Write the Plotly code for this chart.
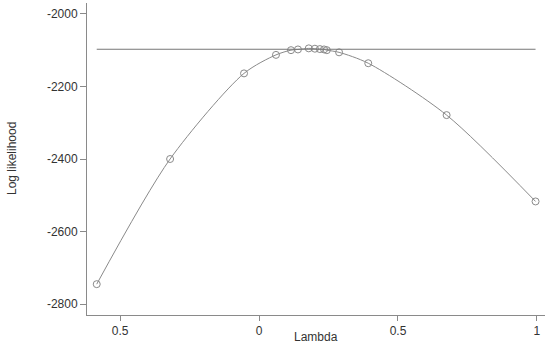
import plotly.graph_objects as go

# profile log likelihood over lambda
lam = [-0.584, -0.32, -0.054, 0.061, 0.115, 0.14, 0.179, 0.201, 0.219, 0.234,
       0.244, 0.288, 0.393, 0.675, 0.995]
loglik = [-2745, -2400, -2164, -2113, -2100, -2098, -2095, -2096, -2097, -2098,
          -2100, -2106, -2136, -2279, -2517]
threshold = -2097.5

x_ticks = [-0.5, 0, 0.5, 1]
x_ticktext = ["0.5", "0", "0.5", "1"]
y_ticks = [-2000, -2200, -2400, -2600, -2800]
y_ticktext = ["-2000", "-2200", "-2400", "-2600", "-2800"]

GREY = "#8a8a8a"
FONT = "Liberation Sans, Arial, sans-serif"

fig = go.Figure()
fig.add_trace(go.Scatter(
    x=lam, y=loglik, mode="lines+markers",
    line=dict(color=GREY, width=1, shape="spline", smoothing=0.8),
    marker=dict(symbol="circle-open", size=7, color=GREY, line=dict(width=1)),
    showlegend=False,
))
fig.add_trace(go.Scatter(
    x=[min(lam), max(lam)], y=[threshold, threshold], mode="lines",
    line=dict(color="#777777", width=1), showlegend=False,
))

fig.update_layout(
    width=550, height=347,
    margin=dict(l=87, r=5, t=3, b=32),
    paper_bgcolor="white", plot_bgcolor="white",
    font=dict(family=FONT, size=12, color="#333333"),
    xaxis=dict(
        range=[-0.619, 1.029], tickvals=x_ticks, ticktext=x_ticktext,
        showgrid=False, zeroline=False, showline=True, linecolor=GREY,
        ticks="outside", ticklen=5, tickcolor=GREY, automargin=False,
    ),
    yaxis=dict(
        range=[-2830, -1970], tickvals=y_ticks, ticktext=y_ticktext,
        showgrid=False, zeroline=False, showline=True, linecolor=GREY,
        ticks="outside", ticklen=6, tickcolor=GREY, automargin=False,
    ),
    annotations=[
        # axis titles, offset in pixels from the plot edges
        dict(text="Lambda", x=0.5, y=0, yanchor="top", yshift=-13,
             xref="paper", yref="paper", showarrow=False),
        dict(text="Log likelihood", textangle=-90, x=0, xanchor="center",
             xshift=-75, y=0.5, xref="paper", yref="paper", showarrow=False),
    ],
)

# drop the page's default body margin so the figure sits at the window corner
fig.write_html("out.html", config={"displayModeBar": False},
               post_script="document.body.style.margin='0';")
